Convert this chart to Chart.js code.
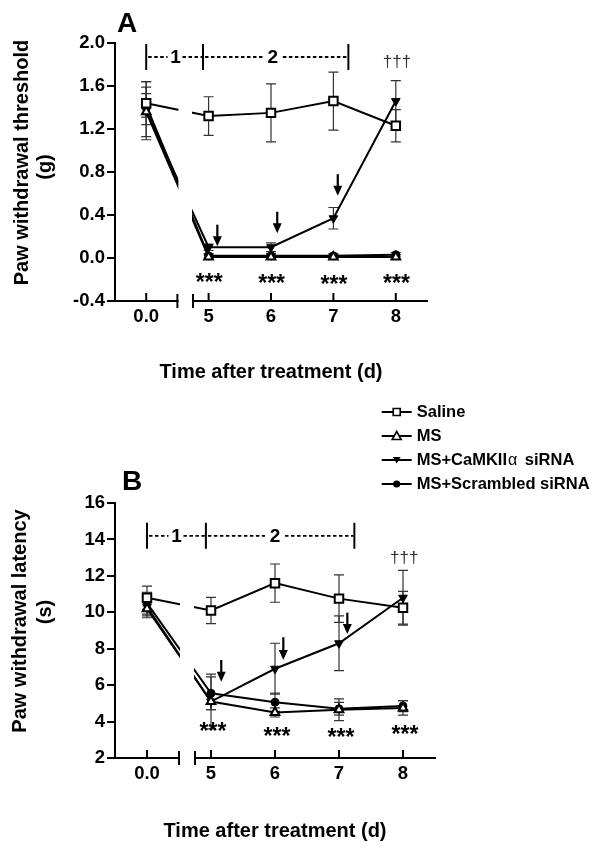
<!DOCTYPE html>
<html>
<head>
<meta charset="utf-8">
<title>Paw withdrawal threshold / latency</title>
<script src="https://cdn.jsdelivr.net/npm/chart.js"></script>
<style>
    body { margin: 0; background: #fff; }
    #wrap { position: relative; width: 604px; height: 854px; }
    canvas { position: absolute; left: 0; }
    #chartA { top: 0; }
    #chartB { top: 400px; }
</style>
</head>
<body>
<div id="wrap">
    <canvas id="chartA" width="604" height="400"></canvas>
    <canvas id="chartB" width="604" height="454"></canvas>
</div>
<script>
// Days after treatment, day 0 sits left of the axis break
const days = [0, 5, 6, 7, 8];
const xTickLabels = ['0.0', '5', '6', '7', '8'];
const seriesNames = ['Saline', 'MS', 'MS+CaMKIIα siRNA', 'MS+Scrambled siRNA'];

// Panel A - paw withdrawal threshold (g)
const yTicksA = [-0.4, 0.0, 0.4, 0.8, 1.2, 1.6, 2.0];
const salineA = [1.44, 1.32, 1.35, 1.46, 1.23];
const salineAErr = [0.20, 0.18, 0.27, 0.27, 0.15];
const msA = [1.36, 0.01, 0.01, 0.01, 0.01];
const msAErr = [0.23, 0.02, 0.02, 0.02, 0.02];
const camA = [1.37, 0.10, 0.10, 0.37, 1.46];
const camAErr = [0.27, 0.03, 0.04, 0.10, 0.19];
const scrA = [1.42, 0.02, 0.02, 0.02, 0.03];
const scrAErr = [0.11, 0.02, 0.02, 0.02, 0.02];

// Panel B - paw withdrawal latency (s)
const yTicksB = [2, 4, 6, 8, 10, 12, 14, 16];
const salineB = [10.8, 10.1, 11.6, 10.75, 10.25];
const salineBErr = [0.64, 0.72, 1.05, 1.3, 0.9];
const msB = [10.2, 5.1, 4.5, 4.65, 4.75];
const msBErr = [0.5, 0.45, 0.25, 0.6, 0.4];
const camB = [10.3, 5.1, 6.9, 8.3, 10.8];
const camBErr = [0.5, 1.5, 1.4, 1.5, 1.5];
const scrB = [10.5, 5.55, 5.06, 4.7, 4.85];
const scrBErr = [0.6, 0.9, 0.5, 0.35, 0.3];

// Significance marks
const starDays = [5, 6, 7, 8];
const starYA = [-0.18, -0.185, -0.195, -0.19];
const starYB = [3.76, 3.48, 3.43, 3.59];

const FONT = "'Liberation Sans', Arial, Helvetica, sans-serif";

// marker look per series
const seriesStyles = [
    { style: 'rect', radius: 6, fill: '#fff', rotation: 0, pbw: 2 },
    { style: 'triangle', radius: 5, fill: '#fff', rotation: 0, pbw: 2 },
    { style: 'triangle', radius: 5, fill: '#000', rotation: 180, pbw: 1 },
    { style: 'circle', radius: 4, fill: '#000', rotation: 0, pbw: 1 }
];

/**
 * Day 0 is drawn at axis position 4 (left of the break)
 */
function dayToAxis(d) {
    return d === 0 ? 4 : d;
}

function makeDatasets(values, errors) {
    return values.map((vals, k) => {
        const st = seriesStyles[k];
        return {
            label: seriesNames[k],
            data: days.map((d, i) => ({ x: dayToAxis(d), y: vals[i] })),
            errors: errors[k],
            borderColor: '#000',
            borderWidth: 2,
            pointStyle: st.style,
            pointRadius: st.radius,
            pointRotation: st.rotation,
            pointBackgroundColor: st.fill,
            pointBorderColor: '#000',
            pointBorderWidth: st.pbw,
            tension: 0,
            fill: false
        };
    });
}

/**
 * Error bars, drawn under the points
 */
const errorBars = {
    id: 'errorBars',
    beforeDatasetsDraw(chart) {
        const { ctx, scales: { x, y } } = chart;
        ctx.save();
        ctx.strokeStyle = '#333';
        ctx.lineWidth = 1.2;
        chart.data.datasets.forEach(ds => {
            ds.data.forEach((p, i) => {
                const e = ds.errors[i];
                const px = x.getPixelForValue(p.x);
                const top = y.getPixelForValue(p.y + e);
                const bot = y.getPixelForValue(p.y - e);
                ctx.beginPath();
                ctx.moveTo(px, top); ctx.lineTo(px, bot);
                ctx.moveTo(px - 5, top); ctx.lineTo(px + 5, top);
                ctx.moveTo(px - 5, bot); ctx.lineTo(px + 5, bot);
                ctx.stroke();
            });
        });
        ctx.restore();
    }
};

function line(ctx, x0, y0, x1, y1) {
    ctx.beginPath();
    ctx.moveTo(x0, y0);
    ctx.lineTo(x1, y1);
    ctx.stroke();
}

function drawMarker(ctx, k, cx, cy) {
    ctx.save();
    ctx.strokeStyle = '#000';
    ctx.fillStyle = '#000';
    ctx.lineWidth = 1.6;
    ctx.beginPath();
    if (k === 0) {
        ctx.rect(cx - 3.5, cy - 3.5, 7, 7);
        ctx.fillStyle = '#fff';
        ctx.fill();
        ctx.stroke();
    } else if (k === 1) {
        ctx.moveTo(cx, cy - 4.5); ctx.lineTo(cx + 4.5, cy + 3.5); ctx.lineTo(cx - 4.5, cy + 3.5);
        ctx.closePath();
        ctx.fillStyle = '#fff';
        ctx.fill();
        ctx.stroke();
    } else if (k === 2) {
        ctx.moveTo(cx - 4, cy - 3); ctx.lineTo(cx + 4, cy - 3); ctx.lineTo(cx, cy + 3.5);
        ctx.closePath();
        ctx.fill();
    } else {
        ctx.arc(cx, cy, 3.6, 0, Math.PI * 2);
        ctx.fill();
    }
    ctx.restore();
}

/**
 * Text with the Greek alpha in a plain face
 */
function drawLegendText(ctx, text, x, y) {
    const parts = text.split('α');
    let cx = x;
    parts.forEach((part, i) => {
        ctx.font = 'bold 16.5px ' + FONT;
        ctx.fillText(part, cx, y);
        cx += ctx.measureText(part).width;
        if (i < parts.length - 1) {
            ctx.font = '16px ' + FONT;
            ctx.fillText('α', cx + 1, y + 1);
            cx += ctx.measureText('α').width + 4;
        }
    });
}

/**
 * Panel decoration: axis break, inner x ticks, titles, brackets, arrows, stars
 */
function makeDecor(cfg) {
    return {
        id: 'decor',
        afterDatasetsDraw(chart) {
            const { ctx, chartArea, scales: { x } } = chart;
            const x0 = x.getPixelForValue(4.5);
            const x1 = x.getPixelForValue(4.75);
            ctx.save();
            ctx.fillStyle = '#fff';
            ctx.fillRect(x0 + 1, 0, x1 - x0 - 2, chartArea.bottom + 3);
            ctx.restore();
        },
        afterDraw(chart) {
            const { ctx, chartArea, scales: { x, y } } = chart;
            const bottom = chartArea.bottom;
            ctx.save();
            ctx.strokeStyle = '#000';
            ctx.fillStyle = '#000';
            ctx.lineWidth = 2;

            // axis break ends
            [4.5, 4.75].forEach(v => {
                const px = x.getPixelForValue(v);
                line(ctx, px, bottom - 7, px, bottom + 7);
            });
            // x ticks point inward
            x.ticks.forEach(t => {
                const px = x.getPixelForValue(t.value);
                line(ctx, px, bottom, px, bottom - 8);
            });

            // y title (two lines)
            ctx.font = 'bold 20px ' + FONT;
            ctx.textAlign = 'center';
            ctx.textBaseline = 'middle';
            cfg.yTitle.forEach(tl => {
                ctx.save();
                ctx.translate(tl.x, tl.y);
                ctx.rotate(-Math.PI / 2);
                ctx.fillText(tl.text, 0, 0);
                ctx.restore();
            });

            // panel letter
            ctx.font = 'bold 28px ' + FONT;
            ctx.textAlign = 'left';
            ctx.textBaseline = 'alphabetic';
            ctx.fillText(cfg.letter, cfg.letterPos[0], cfg.letterPos[1]);

            // treatment bracket |-- 1 --|------ 2 ------|
            const br = cfg.bracket;
            const by = y.getPixelForValue(br.y);
            const bx = br.bars.map(v => x.getPixelForValue(v));
            const l1 = x.getPixelForValue(br.labels[0]);
            const l2 = x.getPixelForValue(br.labels[1]);
            bx.forEach(px => line(ctx, px, by - 13, px, by + 13));
            ctx.lineWidth = 1.8;
            ctx.setLineDash([3.5, 2.5]);
            line(ctx, bx[0] + 2, by, l1 - 8, by);
            line(ctx, l1 + 7, by, bx[1] - 1, by);
            line(ctx, bx[1] + 2, by, l2 - 10, by);
            line(ctx, l2 + 10, by, bx[2] - 1, by);
            ctx.setLineDash([]);
            ctx.font = 'bold 19px ' + FONT;
            ctx.textAlign = 'center';
            ctx.textBaseline = 'middle';
            ctx.fillText('1', l1, by + 1);
            ctx.fillText('2', l2, by + 1);

            // arrows at the siRNA injections
            ctx.lineWidth = 2.2;
            cfg.arrows.forEach(a => {
                const ax = x.getPixelForValue(a[0]);
                const ay0 = y.getPixelForValue(a[1]);
                const ay1 = y.getPixelForValue(a[2]);
                line(ctx, ax, ay0, ax, ay1 - 8);
                ctx.beginPath();
                ctx.moveTo(ax - 4.5, ay1 - 10);
                ctx.lineTo(ax + 4.5, ay1 - 10);
                ctx.lineTo(ax, ay1);
                ctx.closePath();
                ctx.fill();
            });

            // *** under each post-treatment day
            ctx.font = 'bold 23px ' + FONT;
            ctx.textBaseline = 'alphabetic';
            starDays.forEach((d, i) => {
                const sx = x.getPixelForValue(d + cfg.starShift);
                const sy = y.getPixelForValue(cfg.starY[i]);
                ctx.fillText('***', sx, sy + 13);
            });

            // daggers
            ctx.font = '17px ' + FONT;
            ctx.fillStyle = '#333';
            ctx.fillText('†††', x.getPixelForValue(cfg.dagger[0]), y.getPixelForValue(cfg.dagger[1]) + 5);

            // legend
            if (cfg.legend) {
                const lg = cfg.legend;
                ctx.fillStyle = '#000';
                ctx.strokeStyle = '#000';
                ctx.lineWidth = 2;
                ctx.textAlign = 'left';
                ctx.textBaseline = 'middle';
                seriesNames.forEach((name, k) => {
                    const ry = lg.y + k * lg.step;
                    line(ctx, lg.x, ry, lg.x + 30, ry);
                    drawMarker(ctx, k, lg.x + 15, ry);
                    drawLegendText(ctx, name, lg.x + 35, ry);
                });
            }
            ctx.restore();
        }
    };
}

function createPanel(canvasId, p) {
    const ctx = document.getElementById(canvasId).getContext('2d');
    const tickFont = { family: FONT, size: 18.5, weight: 'bold' };
    return new Chart(ctx, {
        type: 'line',
        data: { datasets: makeDatasets(p.values, p.errors) },
        options: {
            responsive: false,
            animation: false,
            events: [],
            layout: { padding: p.padding },
            plugins: { legend: { display: false }, tooltip: { enabled: false } },
            scales: {
                x: {
                    type: 'linear',
                    min: 3.5,
                    max: 8.5,
                    afterBuildTicks: s => { s.ticks = days.map(d => ({ value: dayToAxis(d) })); },
                    afterFit: s => { s.height = p.xAxisHeight; },
                    ticks: {
                        callback: (v, i) => xTickLabels[i],
                        font: tickFont,
                        color: '#000',
                        padding: 5,
                        maxRotation: 0,
                        autoSkip: false
                    },
                    grid: { display: false, drawTicks: false },
                    border: { display: true, width: 2, color: '#000' },
                    title: {
                        display: true,
                        text: 'Time after treatment (d)',
                        color: '#000',
                        font: { family: FONT, size: 20, weight: 'bold' },
                        padding: { top: 0, bottom: 7 }
                    }
                },
                y: {
                    type: 'linear',
                    min: p.yTicks[0],
                    max: p.yTicks[p.yTicks.length - 1],
                    afterBuildTicks: s => { s.ticks = p.yTicks.map(v => ({ value: v })); },
                    afterFit: s => { s.width = 115; },
                    ticks: {
                        callback: p.yFormat,
                        font: tickFont,
                        color: '#000',
                        padding: 2
                    },
                    grid: { drawOnChartArea: false, drawTicks: true, tickLength: 8, lineWidth: 2, color: '#000' },
                    border: { display: true, width: 2, color: '#000' }
                }
            }
        },
        plugins: [errorBars, makeDecor(p.decor)]
    });
}

createPanel('chartA', {
    values: [salineA, msA, camA, scrA],
    errors: [salineAErr, msAErr, camAErr, scrAErr],
    yTicks: yTicksA,
    yFormat: v => v.toFixed(1),
    padding: { top: 43, right: 177, bottom: 9, left: 0 },
    xAxisHeight: 90,
    decor: {
        letter: 'A',
        letterPos: [117, 32],
        yTitle: [
            { text: 'Paw withdrawal threshold', x: 22.5, y: 162.5 },
            { text: '(g)', x: 45.5, y: 167 }
        ],
        bracket: { y: 1.87, bars: [4.0, 4.91, 7.24], labels: [4.47, 6.03] },
        arrows: [[5.14, 0.31, 0.11], [6.10, 0.43, 0.23], [7.07, 0.78, 0.58]],
        starY: starYA,
        starShift: 0.01,
        dagger: [8.02, 1.82]
    }
});

createPanel('chartB', {
    values: [salineB, msB, camB, scrB],
    errors: [salineBErr, msBErr, camBErr, scrBErr],
    yTicks: yTicksB,
    yFormat: v => String(v),
    padding: { top: 103, right: 169, bottom: 4, left: 0 },
    xAxisHeight: 92,
    decor: {
        letter: 'B',
        letterPos: [122, 90],
        yTitle: [
            { text: 'Paw withdrawal latency', x: 20.5, y: 221 },
            { text: '(s)', x: 45.5, y: 212 }
        ],
        bracket: { y: 14.2, bars: [4.0, 4.92, 7.24], labels: [4.46, 6.0] },
        arrows: [[5.16, 7.38, 6.19], [6.13, 8.63, 7.38], [7.13, 9.98, 8.81]],
        starY: starYB,
        starShift: 0.03,
        dagger: [8.02, 12.96],
        legend: { x: 381.7, y: 12, step: 24 }
    }
});
</script>
</body>
</html>
